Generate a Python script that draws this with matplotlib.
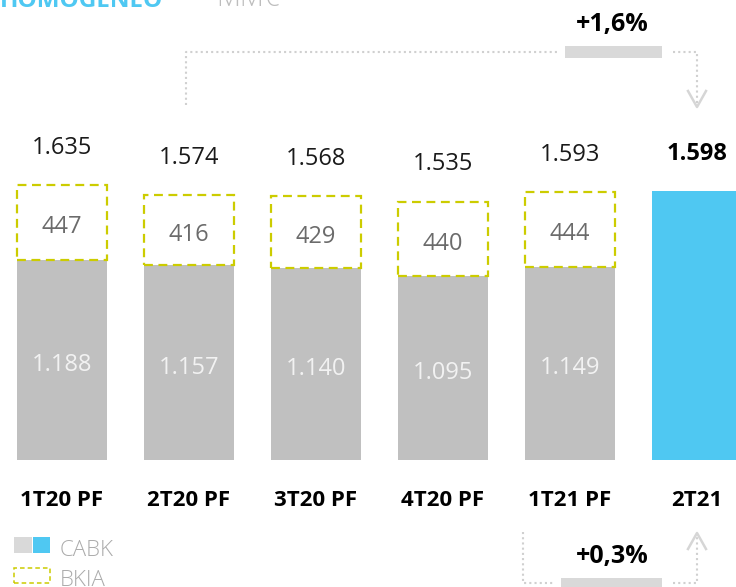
import matplotlib
matplotlib.use("Agg")
import matplotlib.pyplot as plt
from matplotlib.patches import Rectangle

# datos (MM€)
periodos = ["1T20 PF", "2T20 PF", "3T20 PF", "4T20 PF", "1T21 PF", "2T21"]
cabk = [1188, 1157, 1140, 1095, 1149, 1598]
bkia = [447, 416, 429, 440, 444, 0]
totales = ["1.635", "1.574", "1.568", "1.535", "1.593", "1.598"]
var_trim = "+1,6%"
var_semestre = "+0,3%"

plt.rcParams['font.family'] = ['Open Sans', 'DejaVu Sans']

GRIS = "#C0C0C0"
AZUL = "#4FC8F2"
AMARILLO = "#CCCC00"
PUNTOS = "#D0D0D0"

W, H = 736, 587
X0, DX = 62, 127          # centro de la primera barra y separación (px)
Y0, K = 460, 0.1684       # base de las barras (px) y px por MM€
BAJA = 5 / K              # corrección vertical del texto

fig = plt.figure(figsize=(W / 100, H / 100), dpi=100)
ax = fig.add_axes([0, 0, 1, 1])
ax.set_xlim(-X0 / DX, (W - X0) / DX)
ax.set_ylim(-(H - Y0) / K, Y0 / K)
ax.axis("off")


def px(x, y):
    # pixel -> coordenadas de datos
    return (x - X0) / DX, (Y0 - y) / K


ancho = 90 / DX
xs = list(range(len(periodos)))
for i in xs:
    color = AZUL if i == 5 else GRIS
    ax.bar(i, cabk[i], width=ancho, color=color, zorder=2)
    top = cabk[i] + bkia[i]
    if bkia[i]:
        ax.add_patch(Rectangle((i - ancho / 2, cabk[i]), ancho, bkia[i],
                               fill=False, edgecolor=AMARILLO, lw=1.6,
                               ls=(0, (4, 2.5)), zorder=3))
        ax.text(i, cabk[i] + bkia[i] / 2 - BAJA, str(bkia[i]), ha="center", va="center",
                fontsize=17, color="#6B6B6B")
        ax.text(i, cabk[i] / 2 - BAJA, f"{cabk[i] / 1000:.3f}", ha="center", va="center",
                fontsize=17, color="#F2F2F2")
        ax.text(i, top + 238 - 3 / K, totales[i], ha="center", va="center",
                fontsize=17, color="#1A1A1A")
    else:
        ax.text(i, top + 238 - 3 / K, totales[i], ha="center", va="center",
                fontsize=17, color="black", fontweight="bold")
    ax.text(i, -(501 - Y0) / K, periodos[i], ha="center", va="center",
            fontsize=16, fontweight="bold", color="black")

# conector superior
kw = dict(color=PUNTOS, ls=(0, (1, 1.5)), lw=1.5, zorder=1)
pts = [px(186, 105), px(186, 52), px(558, 52)]
ax.plot([p[0] for p in pts], [p[1] for p in pts], **kw)
pts = [px(673, 52), px(697, 52), px(697, 104)]
ax.plot([p[0] for p in pts], [p[1] for p in pts], **kw)
pts = [px(688, 91), px(697, 107), px(706, 91)]
ax.plot([p[0] for p in pts], [p[1] for p in pts], color="#D6D6D6", lw=1.8)
x1, y1 = px(565, 58)
x2, y2 = px(662, 46)
ax.add_patch(Rectangle((x1, y1), x2 - x1, y2 - y1, color="#D9D9D9", lw=0))
ax.text(*px(612, 24), var_trim, ha="center", va="center", fontsize=18,
        fontweight="bold", color="black")

# conector inferior
pts = [px(523, 532), px(523, 583), px(555, 583)]
ax.plot([p[0] for p in pts], [p[1] for p in pts], **kw)
pts = [px(673, 583), px(697, 583), px(697, 536)]
ax.plot([p[0] for p in pts], [p[1] for p in pts], **kw)
pts = [px(688, 549), px(697, 533), px(706, 549)]
ax.plot([p[0] for p in pts], [p[1] for p in pts], color="#D6D6D6", lw=1.8)
x1, y1 = px(561, 590)
x2, y2 = px(662, 578)
ax.add_patch(Rectangle((x1, y1), x2 - x1, y2 - y1, color="#D9D9D9", lw=0))
ax.text(*px(612, 557), var_semestre, ha="center", va="center", fontsize=18,
        fontweight="bold", color="black")

# leyenda
for (a, b, c) in [(14, 32, "#D9D9D9"), (33, 50, AZUL)]:
    xa, ya = px(a, 553)
    xb, yb = px(b, 537)
    ax.add_patch(Rectangle((xa, ya), xb - xa, yb - ya, color=c, lw=0))
xa, ya = px(14, 583)
xb, yb = px(50, 568)
ax.add_patch(Rectangle((xa, ya), xb - xa, yb - ya, fill=False, edgecolor=AMARILLO,
                       lw=1.1, ls=(0, (3, 2))))
ax.text(*px(60, 551), "CABK", ha="left", va="center", fontsize=16,
        color="#ABABAB", fontweight="light")
ax.text(*px(60, 580), "BKIA", ha="left", va="center", fontsize=16,
        color="#ABABAB", fontweight="light")

# título recortado
ax.text(*px(163, 7), "HOMOGÉNEO", ha="right", va="baseline", fontsize=17.5,
        fontweight="bold", color=AZUL)
ax.text(*px(216, 6), "MM€", ha="left", va="baseline", fontsize=20,
        color="#BDBDBD", fontweight="light")

fig.savefig("out.png", dpi=100)
